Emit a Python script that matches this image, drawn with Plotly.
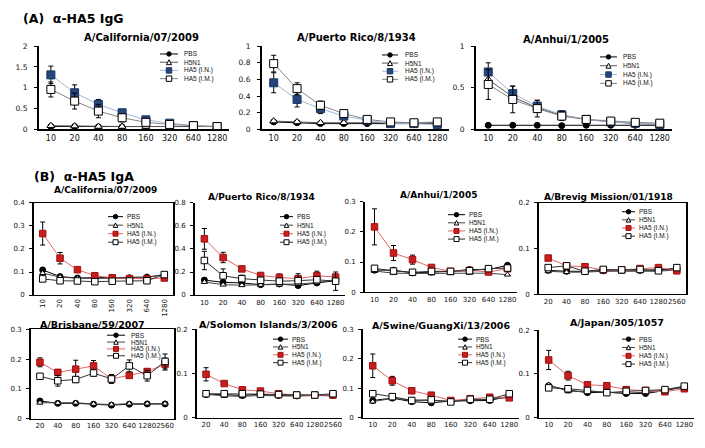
import plotly.graph_objects as go

W, H = 705, 448

# ---------------- data ----------------
dil_a = ["10", "20", "40", "80", "160", "320", "640", "1280"]
dil_b = ["20", "40", "80", "160", "320", "640", "1280", "2560"]
series_names = ["PBS", "H5N1", "HA5 (I.N.)", "HA5 (I.M.)"]

# (A) IgG - A/California/07/2009
igg_cal_pbs = [0.07, 0.07, 0.06, 0.06, 0.06, 0.06, 0.07, 0.07]
igg_cal_h5n1 = [0.09, 0.08, 0.07, 0.07, 0.07, 0.07, 0.07, 0.07]
igg_cal_in = [1.31, 0.88, 0.60, 0.40, 0.23, 0.15, 0.09, 0.07]
igg_cal_in_err = [0.21, 0.19, 0.12, 0.06, 0.03, 0.02, 0.01, 0.01]
igg_cal_im = [0.96, 0.68, 0.44, 0.28, 0.17, 0.12, 0.09, 0.07]
igg_cal_im_err = [0.18, 0.19, 0.16, 0.10, 0.04, 0.03, 0.02, 0.01]

# (A) IgG - A/Puerto Rico/8/1934
igg_pr_pbs = [0.09, 0.08, 0.07, 0.07, 0.07, 0.07, 0.07, 0.07]
igg_pr_h5n1 = [0.10, 0.09, 0.08, 0.08, 0.08, 0.08, 0.08, 0.08]
igg_pr_in = [0.56, 0.36, 0.25, 0.16, 0.11, 0.07, 0.07, 0.06]
igg_pr_in_err = [0.12, 0.09, 0.06, 0.02, 0.01, 0.01, 0.01, 0.01]
igg_pr_im = [0.79, 0.49, 0.29, 0.19, 0.12, 0.09, 0.08, 0.09]
igg_pr_im_err = [0.10, 0.07, 0.05, 0.02, 0.01, 0.01, 0.01, 0.01]

# (A) IgG - A/Anhui/1/2005
igg_anh_pbs = [0.05, 0.05, 0.05, 0.045, 0.05, 0.05, 0.05, 0.05]
igg_anh_h5n1 = [0.60, 0.39, 0.26, 0.17, 0.12, 0.09, 0.07, 0.06]
igg_anh_in = [0.69, 0.43, 0.28, 0.175, 0.12, 0.09, 0.075, 0.06]
igg_anh_in_err = [0.11, 0.09, 0.07, 0.05, 0.02, 0.01, 0.01, 0.01]
igg_anh_im = [0.54, 0.36, 0.25, 0.16, 0.12, 0.10, 0.085, 0.075]
igg_anh_im_err = [0.18, 0.16, 0.10, 0.05, 0.02, 0.01, 0.01, 0.01]

# (B) IgA - A/California/07/2009
iga_cal_pbs = [0.109, 0.080, 0.074, 0.075, 0.074, 0.075, 0.078, 0.088]
iga_cal_h5n1 = [0.095, 0.078, 0.073, 0.072, 0.072, 0.072, 0.075, 0.090]
iga_cal_in = [0.267, 0.160, 0.110, 0.084, 0.075, 0.071, 0.070, 0.074]
iga_cal_in_err = [0.050, 0.025, 0.012, 0.006, 0.004, 0.004, 0.004, 0.004]
iga_cal_im = [0.070, 0.062, 0.061, 0.058, 0.060, 0.061, 0.062, 0.089]
iga_cal_im_err = [0.004, 0.003, 0.003, 0.003, 0.003, 0.003, 0.003, 0.005]

# (B) IgA - A/Puerto Rico/8/1934
iga_pr_pbs = [0.130, 0.110, 0.105, 0.090, 0.096, 0.082, 0.105, 0.125]
iga_pr_h5n1 = [0.113, 0.090, 0.085, 0.088, 0.090, 0.096, 0.108, 0.133]
iga_pr_in = [0.488, 0.326, 0.227, 0.170, 0.153, 0.142, 0.167, 0.156]
iga_pr_in_err = [0.090, 0.045, 0.020, 0.015, 0.030, 0.015, 0.040, 0.015]
iga_pr_im = [0.300, 0.167, 0.142, 0.128, 0.120, 0.125, 0.133, 0.120]
iga_pr_im_err = [0.080, 0.060, 0.030, 0.020, 0.020, 0.060, 0.020, 0.080]

# (B) IgA - A/Anhui/1/2005
iga_anh_pbs = [0.073, 0.073, 0.064, 0.067, 0.069, 0.075, 0.075, 0.089]
iga_anh_h5n1 = [0.070, 0.063, 0.062, 0.062, 0.063, 0.064, 0.063, 0.058]
iga_anh_in = [0.217, 0.130, 0.108, 0.082, 0.069, 0.072, 0.067, 0.078]
iga_anh_in_err = [0.060, 0.025, 0.015, 0.005, 0.003, 0.003, 0.003, 0.004]
iga_anh_im = [0.079, 0.070, 0.066, 0.069, 0.069, 0.071, 0.078, 0.080]
iga_anh_im_err = [0.003, 0.003, 0.003, 0.003, 0.003, 0.003, 0.003, 0.003]

# (B) IgA - A/Brevig Mission/01/1918
iga_bre_pbs = [0.052, 0.050, 0.050, 0.051, 0.053, 0.052, 0.053, 0.055]
iga_bre_h5n1 = [0.050, 0.048, 0.048, 0.050, 0.050, 0.050, 0.050, 0.053]
iga_bre_in = [0.079, 0.062, 0.060, 0.053, 0.053, 0.056, 0.058, 0.051]
iga_bre_in_err = [0.005, 0.003, 0.003, 0.002, 0.002, 0.002, 0.002, 0.002]
iga_bre_im = [0.058, 0.062, 0.050, 0.054, 0.053, 0.054, 0.051, 0.058]
iga_bre_im_err = [0.003, 0.003, 0.002, 0.002, 0.002, 0.002, 0.002, 0.003]

# (B) IgA - A/Brisbane/59/2007
iga_bri_pbs = [0.059, 0.051, 0.051, 0.048, 0.045, 0.048, 0.049, 0.049]
iga_bri_h5n1 = [0.053, 0.052, 0.053, 0.049, 0.047, 0.050, 0.050, 0.050]
iga_bri_in = [0.189, 0.155, 0.166, 0.177, 0.133, 0.145, 0.158, 0.183]
iga_bri_in_err = [0.015, 0.010, 0.030, 0.018, 0.015, 0.008, 0.008, 0.020]
iga_bri_im = [0.142, 0.127, 0.131, 0.153, 0.133, 0.177, 0.144, 0.192]
iga_bri_im_err = [0.008, 0.018, 0.010, 0.010, 0.010, 0.020, 0.018, 0.025]

# (B) IgA - A/Solomon Islands/3/2006
iga_sol_pbs = [0.052, 0.052, 0.050, 0.053, 0.050, 0.049, 0.050, 0.050]
iga_sol_h5n1 = [0.053, 0.049, 0.048, 0.050, 0.049, 0.050, 0.050, 0.049]
iga_sol_in = [0.098, 0.077, 0.063, 0.060, 0.054, 0.051, 0.051, 0.051]
iga_sol_in_err = [0.015, 0.004, 0.003, 0.003, 0.002, 0.002, 0.002, 0.002]
iga_sol_im = [0.054, 0.054, 0.054, 0.053, 0.052, 0.051, 0.051, 0.054]
iga_sol_im_err = [0.002, 0.002, 0.002, 0.002, 0.002, 0.002, 0.002, 0.002]

# (B) IgA - A/Swine/GuangXi/13/2006
iga_swi_pbs = [0.058, 0.066, 0.054, 0.050, 0.056, 0.057, 0.058, 0.073]
iga_swi_h5n1 = [0.054, 0.065, 0.060, 0.057, 0.056, 0.060, 0.062, 0.068]
iga_swi_in = [0.176, 0.125, 0.091, 0.076, 0.058, 0.064, 0.069, 0.067]
iga_swi_in_err = [0.040, 0.015, 0.006, 0.004, 0.003, 0.003, 0.003, 0.003]
iga_swi_im = [0.081, 0.071, 0.058, 0.060, 0.053, 0.062, 0.062, 0.081]
iga_swi_im_err = [0.003, 0.003, 0.003, 0.003, 0.003, 0.003, 0.003, 0.003]

# (B) IgA - A/Japan/305/1057
iga_jap_pbs = [0.073, 0.063, 0.057, 0.058, 0.055, 0.055, 0.062, 0.070]
iga_jap_h5n1 = [0.075, 0.060, 0.060, 0.058, 0.056, 0.058, 0.063, 0.070]
iga_jap_in = [0.132, 0.096, 0.075, 0.073, 0.064, 0.062, 0.059, 0.066]
iga_jap_in_err = [0.022, 0.010, 0.004, 0.003, 0.003, 0.003, 0.003, 0.003]
iga_jap_im = [0.068, 0.066, 0.062, 0.057, 0.060, 0.062, 0.064, 0.072]
iga_jap_im_err = [0.003, 0.003, 0.003, 0.003, 0.003, 0.003, 0.003, 0.003]

# ---------------- layout spec (pixel boxes) ----------------
panels = [
    dict(title="A/California/07/2009", cats=dil_a, grp="A",
         vals=[igg_cal_pbs, igg_cal_h5n1, igg_cal_in, igg_cal_im],
         errs=[None, None, igg_cal_in_err, igg_cal_im_err],
         ymax=2, dtick=0.5, box=(39, 229, 43, 128), tpos=(141, 34), tsize=10,
         leg=(160, 178, 182, 51, 8.4), mirror=False, tickangle=0),
    dict(title="A/Puerto Rico/8/1934", cats=dil_a, grp="A",
         vals=[igg_pr_pbs, igg_pr_h5n1, igg_pr_in, igg_pr_im],
         errs=[None, None, igg_pr_in_err, igg_pr_im_err],
         ymax=1, dtick=0.2, box=(262, 449, 43, 128), tpos=(357, 34), tsize=10,
         leg=(382, 398, 403, 52, 8.3), mirror=False, tickangle=0),
    dict(title="A/Anhui/1/2005", cats=dil_a, grp="A",
         vals=[igg_anh_pbs, igg_anh_h5n1, igg_anh_in, igg_anh_im],
         errs=[None, None, igg_anh_in_err, igg_anh_im_err],
         ymax=1, dtick=0.5, box=(476, 672, 43, 128), tpos=(566, 36), tsize=10,
         leg=(600, 617, 621, 54, 9), mirror=False, tickangle=0),
    dict(title="A/California/07/2009", cats=dil_a, grp="B",
         vals=[iga_cal_pbs, iga_cal_h5n1, iga_cal_in, iga_cal_im],
         errs=[None, None, iga_cal_in_err, iga_cal_im_err],
         ymax=0.4, dtick=0.1, box=(34, 173, 203, 297), tpos=(105, 190), tsize=9,
         leg=(108, 123, 125, 217, 8.7), mirror=True, tickangle=-90),
    dict(title="A/Puerto Rico/8/1934", cats=dil_a, grp="B",
         vals=[iga_pr_pbs, iga_pr_h5n1, iga_pr_in, iga_pr_im],
         errs=[None, None, iga_pr_in_err, iga_pr_im_err],
         ymax=0.8, dtick=0.2, box=(195, 345, 203, 297), tpos=(261, 197), tsize=9,
         leg=(280, 293, 295, 217, 8.7), mirror=False, tickangle=0),
    dict(title="A/Anhui/1/2005", cats=dil_a, grp="B",
         vals=[iga_anh_pbs, iga_anh_h5n1, iga_anh_in, iga_anh_im],
         errs=[None, None, iga_anh_in_err, iga_anh_im_err],
         ymax=0.3, dtick=0.1, box=(365, 517, 202, 294), tpos=(438, 195), tsize=9,
         leg=(448, 465, 467, 215, 8.3), mirror=False, tickangle=0),
    dict(title="A/Brevig Mission/01/1918", cats=dil_b, grp="B",
         vals=[iga_bre_pbs, iga_bre_h5n1, iga_bre_in, iga_bre_im],
         errs=[None, None, iga_bre_in_err, iga_bre_im_err],
         ymax=0.2, dtick=0.1, box=(539, 686, 203, 296), tpos=(608, 197), tsize=9,
         leg=(622, 635, 637, 212, 8.3), mirror=True, tickangle=0),
    dict(title="A/Brisbane/59/2007", cats=dil_b, grp="B",
         vals=[iga_bri_pbs, iga_bri_h5n1, iga_bri_in, iga_bri_im],
         errs=[None, None, iga_bri_in_err, iga_bri_im_err],
         ymax=0.3, dtick=0.1, box=(31, 174, 332, 423), tpos=(92, 327), tsize=9.5,
         leg=(107, 125, 129, 338, 7), mirror=True, tickangle=0),
    dict(title="A/Solomon Islands/3/2006", cats=dil_b, grp="B",
         vals=[iga_sol_pbs, iga_sol_h5n1, iga_sol_in, iga_sol_im],
         errs=[None, None, iga_sol_in_err, iga_sol_im_err],
         ymax=0.2, dtick=0.1, box=(197, 342, 332, 422), tpos=(268, 327), tsize=9.5,
         leg=(273, 288, 290, 342, 8), mirror=False, tickangle=0),
    dict(title="A/Swine/GuangXi/13/2006", cats=dil_a, grp="B",
         vals=[iga_swi_pbs, iga_swi_h5n1, iga_swi_in, iga_swi_im],
         errs=[None, None, iga_swi_in_err, iga_swi_im_err],
         ymax=0.3, dtick=0.1, box=(363, 519, 332, 422), tpos=(441, 328), tsize=9.5,
         leg=(458, 472, 474, 342, 8), mirror=False, tickangle=0),
    dict(title="A/Japan/305/1057", cats=dil_a, grp="B",
         vals=[iga_jap_pbs, iga_jap_h5n1, iga_jap_in, iga_jap_im],
         errs=[None, None, iga_jap_in_err, iga_jap_im_err],
         ymax=0.2, dtick=0.1, box=(539, 694, 333, 422), tpos=(617, 325), tsize=9.5,
         leg=(622, 635, 637, 342, 8.5), mirror=False, tickangle=0),
]

styles = {
    "A": [dict(line="#000000", symbol="circle", fill="#000000", mline="#000000", size=6, lsize=4.5),
          dict(line="#555555", symbol="triangle-up", fill="#ffffff", mline="#000000", size=7, lsize=5),
          dict(line="#A3B8D6", symbol="square", fill="#24467A", mline="#1A3560", size=8, lsize=5.5),
          dict(line="#858585", symbol="square", fill="#ffffff", mline="#000000", size=8, lsize=5.5)],
    "B": [dict(line="#000000", symbol="circle", fill="#000000", mline="#000000", size=6, lsize=4.5),
          dict(line="#444444", symbol="triangle-up", fill="#ffffff", mline="#000000", size=5.5, lsize=4.5),
          dict(line="#E06666", symbol="square", fill="#C81E1E", mline="#A01010", size=6.5, lsize=5),
          dict(line="#333333", symbol="square", fill="#ffffff", mline="#000000", size=6.5, lsize=5)],
}

FONT = "Liberation Sans, Arial, sans-serif"
WIDE = "DejaVu Sans, Verdana, sans-serif"


def px(x):
    return x / W


def py(y):
    return 1 - y / H


fig = go.Figure()
shapes = []
annotations = []
layout_axes = {}

for i, p in enumerate(panels):
    n = i + 1
    xa = "x" if n == 1 else f"x{n}"
    ya = "y" if n == 1 else f"y{n}"
    st = styles[p["grp"]]
    for j, name in enumerate(series_names):
        s = st[j]
        err = p["errs"][j]
        fig.add_trace(go.Scatter(
            x=p["cats"], y=p["vals"][j], name=name, xaxis=xa, yaxis=ya,
            mode="lines+markers", showlegend=False,
            line=dict(color=s["line"], width=1),
            marker=dict(symbol=s["symbol"], size=s["size"], color=s["fill"],
                        line=dict(color=s["mline"], width=1)),
            error_y=(dict(type="data", array=err, visible=True, color="#000000",
                          thickness=1, width=2.5) if err is not None else None),
        ))
    x0, x1, y0, y1 = p["box"]
    isA = p["grp"] == "A"
    layout_axes["xaxis" if n == 1 else f"xaxis{n}"] = dict(
        domain=[px(x0), px(x1)], anchor=ya, type="category", range=[-0.5, 7.5],
        showgrid=False, zeroline=False, showline=True, linecolor="#000000",
        linewidth=1.6 if isA else 1.4,
        mirror=p["mirror"], ticks="", tickangle=p["tickangle"],
        tickfont=dict(family=WIDE, size=8 if isA else 7, color="#111111"),
        fixedrange=True,
    )
    layout_axes["yaxis" if n == 1 else f"yaxis{n}"] = dict(
        domain=[py(y1), py(y0)], anchor=xa, range=[0, p["ymax"]], dtick=p["dtick"], tick0=0,
        showgrid=False, zeroline=False, showline=True, linecolor="#000000", linewidth=2,
        mirror=p["mirror"], ticks="outside", ticklen=3, tickcolor="#000000",
        ticklabelstandoff=5 if isA else 3,
        tickfont=dict(family=WIDE, size=7.5 if isA else 7, color="#111111"),
        fixedrange=True,
    )
    # panel title
    annotations.append(dict(
        text=f"<b>{p['title']}</b>", x=px(p["tpos"][0]), y=py(p["tpos"][1]),
        xref="paper", yref="paper", showarrow=False, xanchor="center", yanchor="middle",
        font=dict(family=WIDE, size=p["tsize"], color="#000000"),
    ))
    # legend (drawn as small keys)
    kx0, kx1, tx, ry0, rdy = p["leg"]
    for j, name in enumerate(series_names):
        s = st[j]
        ry = ry0 + j * rdy
        shapes.append(dict(type="line", xref="paper", yref="paper",
                           x0=px(kx0), x1=px(kx1), y0=py(ry), y1=py(ry),
                           line=dict(color=s["line"] if j != 0 else "#000000", width=1)))
        cx = (kx0 + kx1) / 2
        h = s["lsize"] / 2
        mline = dict(color=s["mline"], width=1)
        if s["symbol"] == "circle":
            shapes.append(dict(type="circle", xref="paper", yref="paper",
                               x0=px(cx - h), x1=px(cx + h), y0=py(ry + h), y1=py(ry - h),
                               fillcolor=s["fill"], line=mline))
        elif s["symbol"] == "square":
            shapes.append(dict(type="rect", xref="paper", yref="paper",
                               x0=px(cx - h), x1=px(cx + h), y0=py(ry + h), y1=py(ry - h),
                               fillcolor=s["fill"], line=mline))
        else:
            path = (f"M {px(cx - h)},{py(ry + h)} L {px(cx + h)},{py(ry + h)} "
                    f"L {px(cx)},{py(ry - h)} Z")
            shapes.append(dict(type="path", xref="paper", yref="paper", path=path,
                               fillcolor=s["fill"], line=mline))
        annotations.append(dict(
            text=name, x=px(tx), y=py(ry), xref="paper", yref="paper", showarrow=False,
            xanchor="left", yanchor="middle",
            font=dict(family=FONT, size=6.5, color="#111111"),
        ))

# section headers
annotations.append(dict(text="<b>(A)\u00a0\u00a0α-HA5 IgG</b>", x=px(21), y=py(15),
                        xref="paper", yref="paper", showarrow=False, xanchor="left",
                        yanchor="middle", font=dict(family=WIDE, size=12.5, color="#000000")))
annotations.append(dict(text="<b>(B)\u00a0\u00a0α-HA5 IgA</b>", x=px(32), y=py(176),
                        xref="paper", yref="paper", showarrow=False, xanchor="left",
                        yanchor="middle", font=dict(family=WIDE, size=12.5, color="#000000")))

fig.update_layout(
    width=W, height=H, margin=dict(l=0, r=0, t=0, b=0),
    paper_bgcolor="#ffffff", plot_bgcolor="#ffffff",
    showlegend=False, shapes=shapes, annotations=annotations,
    font=dict(family=FONT, color="#000000"),
    **layout_axes,
)

fig.write_html("out.html", config={"displayModeBar": False},
               post_script="document.body.style.margin='0';document.body.style.overflow='hidden';")
